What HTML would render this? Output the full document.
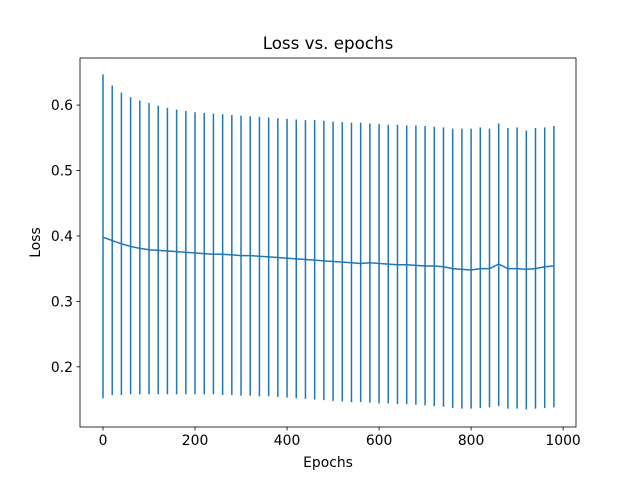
<!DOCTYPE html>
<html><head><meta charset="utf-8"><style>
body{margin:0;background:#fff;}
svg text{font-family:"DejaVu Sans","Liberation Sans",sans-serif;fill:#000;}
</style></head><body>
<svg id="chart" width="640" height="480">
<rect x="0" y="0" width="640" height="480" fill="#fff"/>
<g id="marks"></g>
<g id="axes"></g>
</svg>
<script>
const epochs=[];for(let e=0;e<1000;e+=20)epochs.push(e);
const meanLoss=[0.398,0.393,0.388,0.384,0.381,0.379,0.378,0.377,0.376,0.375,0.374,0.373,0.372,0.372,0.371,0.370,0.370,0.369,0.368,0.367,0.366,0.365,0.364,0.363,0.362,0.361,0.360,0.359,0.358,0.359,0.358,0.357,0.356,0.356,0.355,0.354,0.354,0.353,0.350,0.349,0.348,0.350,0.350,0.357,0.350,0.350,0.349,0.350,0.353,0.354];
const upperLoss=[0.647,0.630,0.619,0.612,0.607,0.603,0.599,0.596,0.593,0.591,0.589,0.588,0.587,0.586,0.585,0.584,0.583,0.582,0.581,0.580,0.579,0.578,0.577,0.577,0.576,0.575,0.574,0.573,0.573,0.572,0.571,0.570,0.570,0.569,0.569,0.568,0.567,0.566,0.564,0.564,0.564,0.566,0.564,0.572,0.565,0.566,0.561,0.565,0.566,0.568];
const lowerLoss=[0.152,0.157,0.157,0.158,0.158,0.158,0.158,0.158,0.158,0.158,0.158,0.158,0.158,0.157,0.157,0.156,0.156,0.155,0.155,0.154,0.153,0.152,0.151,0.150,0.149,0.148,0.147,0.146,0.146,0.145,0.144,0.144,0.143,0.143,0.142,0.141,0.140,0.139,0.137,0.136,0.136,0.137,0.138,0.140,0.136,0.136,0.135,0.136,0.137,0.138];
const xTicks=[0,200,400,600,800,1000];
const yTicks=[0.2,0.3,0.4,0.5,0.6];
const L=80,R=576,T=58,B=427;
const xMin=-50,xMax=1028,yMin=0.108,yMax=0.672;
const xs=v=>L+(v-xMin)/(xMax-xMin)*(R-L);
const ys=v=>B-(v-yMin)/(yMax-yMin)*(B-T);
const NS="http://www.w3.org/2000/svg";
function mk(tag,attrs,parent){const e=document.createElementNS(NS,tag);for(const k in attrs)e.setAttribute(k,attrs[k]);parent.appendChild(e);return e;}
const marks=document.getElementById('marks'),axes=document.getElementById('axes');
const c='#1f77b4';
epochs.forEach((e,i)=>{
 const l=mk('line',{x1:xs(e),x2:xs(e),y1:ys(upperLoss[i]),y2:ys(lowerLoss[i]),stroke:c,'stroke-width':1.5},marks);
 
 
});
const p=mk('polyline',{points:epochs.map((e,i)=>xs(e)+','+ys(meanLoss[i])).join(' '),fill:'none',stroke:c,'stroke-width':1.5},marks);


const fr=mk('rect',{x:L,y:T,width:R-L,height:B-T,fill:'none',stroke:'#000','stroke-width':0.8},axes);


xTicks.forEach(t=>{
 mk('line',{x1:xs(t),x2:xs(t),y1:B,y2:B+3.5,stroke:'#000','stroke-width':0.8},axes);
 const tx=mk('text',{x:xs(t),y:B+18,'font-size':13.9,'text-anchor':'middle'},axes);tx.textContent=t;
 
 
});
yTicks.forEach(t=>{
 mk('line',{x1:L-3.5,x2:L,y1:ys(t),y2:ys(t),stroke:'#000','stroke-width':0.8},axes);
 const tx=mk('text',{x:L-7,y:ys(t)+5,'font-size':13.9,'text-anchor':'end'},axes);tx.textContent=t.toFixed(1);
 
 
});
const xt=mk('text',{x:(L+R)/2,y:467,'font-size':13.9,'text-anchor':'middle'},axes);xt.textContent='Epochs';


const yt=mk('text',{x:0,y:0,'font-size':13.9,'text-anchor':'middle',transform:'translate(40,'+((T+B)/2)+') rotate(-90)'},axes);yt.textContent='Loss';


const ti=mk('text',{x:(L+R)/2,y:49,'font-size':16.7,'text-anchor':'middle'},axes);ti.textContent='Loss vs. epochs';


</script>
</body></html>
